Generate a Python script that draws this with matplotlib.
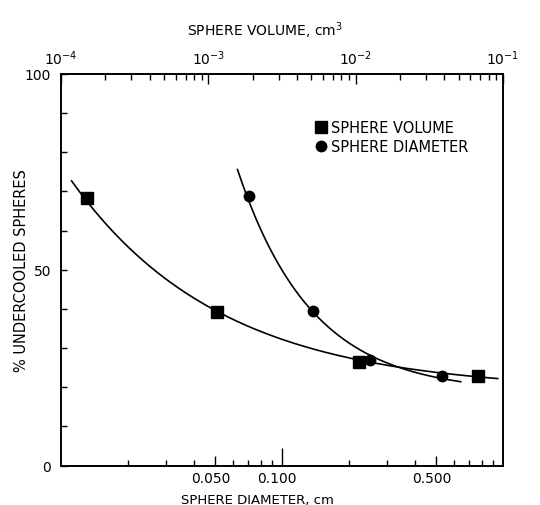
import numpy as np
import matplotlib
matplotlib.use("Agg")
import matplotlib.pyplot as plt
from matplotlib.ticker import FixedLocator, NullFormatter
from matplotlib.transforms import ScaledTranslation

plt.rcParams['font.family'] = ['DejaVu Sans']
plt.rcParams['mathtext.default'] = 'regular'

# ---- data ----
vol_x = [1.51e-4, 1.14e-3, 1.06e-2, 6.8e-2]          # sphere volume, cm^3 (top axis)
vol_y = [68.3, 39.3, 26.5, 22.9]                     # % undercooled
vol_curve_x = [1.18e-4, 9.2e-2]                      # ends of the drawn curve
vol_curve_y = [71.9, 22.3]

dia_x = [0.0708, 0.138, 0.250, 0.532]                # sphere diameter, cm (bottom axis)
dia_y = [68.9, 39.4, 26.9, 22.9]
dia_curve_x = [0.0629, 0.644]
dia_curve_y = [74.5, 21.5]

bottom_ticks = [0.05, 0.1, 0.5]
bottom_labels = ['0.050', '0.100', '0.500']
top_ticks = [1e-4, 1e-3, 1e-2, 1e-1]
top_labels = ['$10^{-4}$', '$10^{-3}$', '$10^{-2}$', '$10^{-1}$']
y_ticks = [0, 50, 100]

fig = plt.figure(figsize=(5.4, 5.06), dpi=100)
ax = fig.add_axes([61/540, 1-466.5/506, (503-61)/540, (466.5-75)/506])
axt = ax.twiny()

lw = 1.2

def smooth(xs, ys, ex, ey):
    """Least-squares fit y = a + b*exp(c*log10(x)) through points and curve ends."""
    lx = np.log10(np.asarray(list(xs) + list(ex)))
    yy = np.asarray(list(ys) + list(ey))
    best = None
    for c in np.linspace(-12, -0.2, 2000):
        A = np.column_stack([np.ones_like(lx), np.exp(c * lx)])
        coef, *_ = np.linalg.lstsq(A, yy, rcond=None)
        err = np.sum((A @ coef - yy) ** 2)
        if best is None or err < best[0]:
            best = (err, c, coef)
    _, c, (a, b) = best
    xx = np.linspace(np.log10(ex[0]), np.log10(ex[1]), 300)
    return 10**xx, a + b * np.exp(c * xx)

# diameter series on bottom axis
cx, cy = smooth(dia_x, dia_y, dia_curve_x, dia_curve_y)
ax.plot(cx, cy, color='black', lw=lw)
ax.plot(dia_x, dia_y, 'o', color='black', ms=7.5)

# volume series on top axis
vx, vy = smooth(vol_x, vol_y, vol_curve_x, vol_curve_y)
axt.plot(vx, vy, color='black', lw=lw)
axt.plot(vol_x, vol_y, 's', color='black', ms=8)

ax.set_xscale('log')
ax.set_xlim(0.01, 1.0)
ax.set_ylim(0, 100)
axt.set_xscale('log')
axt.set_xlim(1e-4, 1e-1)

# bottom ticks
ax.xaxis.set_major_locator(FixedLocator(bottom_ticks))
ax.set_xticklabels(bottom_labels)
minor_b = [m * 10.0**e for e in (-2, -1) for m in range(2, 10)]
minor_b = [v for v in minor_b if v not in bottom_ticks and v > 0.011]
ax.xaxis.set_minor_locator(FixedLocator(minor_b))
ax.xaxis.set_minor_formatter(NullFormatter())
ax.tick_params(axis='x', which='major', direction='in', length=7, width=1,
               labelsize=10, pad=4, top=False)
ax.tick_params(axis='x', which='minor', direction='in', length=4, width=1, top=False)
ax.xaxis.get_major_ticks()[1].tick1line.set_markersize(13)
shift = ScaledTranslation(-5/100, 0, fig.dpi_scale_trans)
for lab in ax.get_xticklabels():
    lab.set_transform(lab.get_transform() + shift)

# y ticks
ax.set_yticks(y_ticks)
ax.set_yticklabels([str(v) for v in y_ticks])
ax.yaxis.set_minor_locator(FixedLocator([10, 20, 30, 40, 60, 70, 80, 90]))
ax.tick_params(axis='y', which='both', direction='in', length=4, width=1,
               labelsize=10, pad=7)

# top ticks
axt.xaxis.set_major_locator(FixedLocator(top_ticks))
axt.set_xticklabels(top_labels)
minor_t = [m * 10.0**e for e in (-4, -3, -2) for m in range(2, 10)]
axt.xaxis.set_minor_locator(FixedLocator(minor_t))
axt.xaxis.set_minor_formatter(NullFormatter())
axt.tick_params(axis='x', which='major', direction='in', length=7, width=1,
                labelsize=10, pad=5)
axt.tick_params(axis='x', which='minor', direction='in', length=4, width=1)

for a in (ax, axt):
    for s in a.spines.values():
        s.set_linewidth(1.2)

ax.set_xlabel('SPHERE DIAMETER, cm', fontsize=9.5,
              family=['Liberation Sans Narrow', 'DejaVu Sans'])
ax.xaxis.set_label_coords((257-61)/442, (466.5-494)/391.5)
axt.set_xlabel('SPHERE VOLUME, cm$^3$', fontsize=10)
axt.xaxis.set_label_coords((265-61)/442, (466.5-36)/391.5)
ax.set_ylabel('% UNDERCOOLED SPHERES', fontsize=10.5)
ax.yaxis.set_label_coords((29-61)/442, 0.5)

# legend
leg_handles = [
    plt.Line2D([], [], marker='s', color='black', ls='none', ms=8),
    plt.Line2D([], [], marker='o', color='black', ls='none', ms=7.5),
]
ax.legend(leg_handles, ['SPHERE VOLUME', 'SPHERE DIAMETER'], loc='upper left',
          bbox_to_anchor=((312-61)/442, 1-(121-75)/391.5), frameon=False,
          fontsize=10.5, handletextpad=0.1, handlelength=1.2, labelspacing=0.3,
          borderaxespad=0, borderpad=0)

fig.savefig('out.png', dpi=100)
